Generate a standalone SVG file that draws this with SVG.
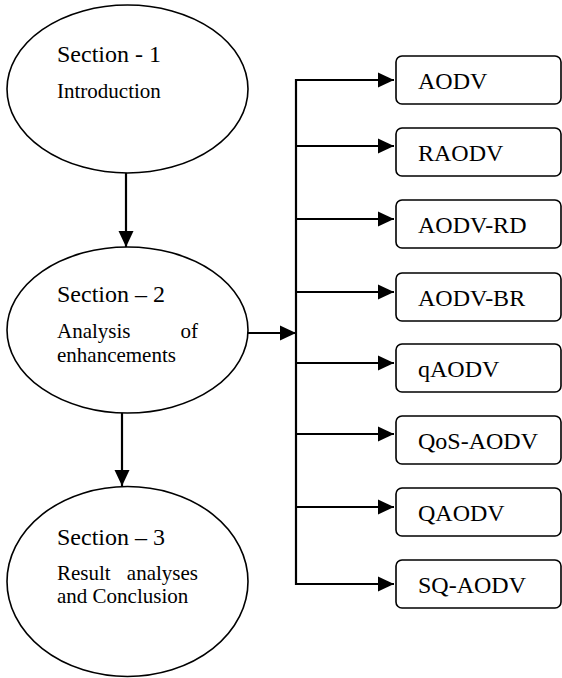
<svg xmlns="http://www.w3.org/2000/svg" width="562" height="678" viewBox="0 0 562 678">
<defs>
<marker id="arr" markerUnits="userSpaceOnUse" markerWidth="16" markerHeight="16" viewBox="0 0 16 16" refX="16" refY="8" orient="auto">
<path d="M0,0.5 L16,8 L0,15.5 Z" fill="#000"/>
</marker>
<style>
.ell{fill:#fff;stroke:#000;stroke-width:1.6}
.box{fill:#fff;stroke:#000;stroke-width:1.6}
.ln{fill:none;stroke:#000;stroke-width:2.2}
.t{font-family:"Liberation Serif","Times New Roman",serif;fill:#000}
.h{font-size:24px}
.s{font-size:21px}
.b{font-size:24px}
</style>
</defs>
<g id="connectors">
<line class="ln" x1="126" y1="173" x2="126" y2="247" marker-end="url(#arr)"/>
<line class="ln" x1="122" y1="413" x2="122" y2="486" marker-end="url(#arr)"/>
<line class="ln" x1="248" y1="333" x2="296" y2="333" marker-end="url(#arr)"/>
<polyline class="ln" points="394,80 296,80 296,584 394,584" marker-end="url(#arr)"/>
<line class="ln" x1="296" y1="146" x2="394" y2="146" marker-end="url(#arr)"/>
<line class="ln" x1="296" y1="219" x2="394" y2="219" marker-end="url(#arr)"/>
<line class="ln" x1="296" y1="292" x2="394" y2="292" marker-end="url(#arr)"/>
<line class="ln" x1="296" y1="363" x2="394" y2="363" marker-end="url(#arr)"/>
<line class="ln" x1="296" y1="434" x2="394" y2="434" marker-end="url(#arr)"/>
<line class="ln" x1="296" y1="507" x2="394" y2="507" marker-end="url(#arr)"/>
<line class="ln" x1="296" y1="80" x2="394" y2="80" marker-end="url(#arr)"/>
</g>
<g id="section1">
<ellipse class="ell" cx="127.5" cy="89" rx="120.5" ry="84"/>
<text class="t h" x="57" y="62">Section - 1</text>
<text class="t s" x="57" y="98">Introduction</text>
</g>
<g id="section2">
<ellipse class="ell" cx="127.5" cy="330" rx="120.5" ry="83"/>
<text class="t h" x="57" y="302">Section – 2</text>
<text class="t s" x="57" y="338">Analysis</text>
<text class="t s" x="198" y="338" text-anchor="end">of</text>
<text class="t s" x="57" y="362">enhancements</text>
</g>
<g id="section3">
<ellipse class="ell" cx="127.5" cy="581.5" rx="120.5" ry="95"/>
<text class="t h" x="57" y="545">Section – 3</text>
<text class="t s" x="57" y="580">Result</text>
<text class="t s" x="198" y="580" text-anchor="end">analyses</text>
<text class="t s" x="57" y="603">and Conclusion</text>
</g>
<g id="n-aodv"><rect class="box" x="396" y="56" width="165" height="48" rx="6"/><text class="t b" x="418" y="89">AODV</text></g>
<g id="n-raodv"><rect class="box" x="396" y="128" width="165" height="48" rx="6"/><text class="t b" x="418" y="161">RAODV</text></g>
<g id="n-aodv-rd"><rect class="box" x="396" y="200" width="165" height="48" rx="6"/><text class="t b" x="418" y="233">AODV-RD</text></g>
<g id="n-aodv-br"><rect class="box" x="396" y="273" width="165" height="48" rx="6"/><text class="t b" x="418" y="306">AODV-BR</text></g>
<g id="n-qaodv-l"><rect class="box" x="396" y="344" width="165" height="48" rx="6"/><text class="t b" x="418" y="377">qAODV</text></g>
<g id="n-qos-aodv"><rect class="box" x="396" y="416" width="165" height="48" rx="6"/><text class="t b" x="418" y="449">QoS-AODV</text></g>
<g id="n-qaodv"><rect class="box" x="396" y="488" width="165" height="48" rx="6"/><text class="t b" x="418" y="521">QAODV</text></g>
<g id="n-sq-aodv"><rect class="box" x="396" y="560" width="165" height="48" rx="6"/><text class="t b" x="418" y="593">SQ-AODV</text></g>
</svg>
